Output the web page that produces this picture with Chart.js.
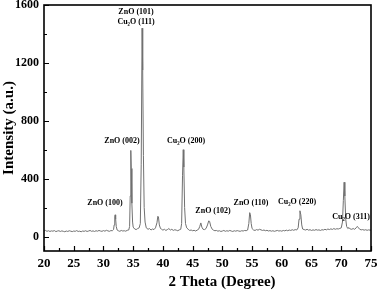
<!DOCTYPE html>
<html>
<head>
<meta charset="utf-8">
<script src="https://cdn.jsdelivr.net/npm/chart.js@4.4.1/dist/chart.umd.min.js"></script>
<style>
  html, body { margin: 0; padding: 0; background: #fff; }
  #wrap { width: 378px; height: 290px; position: relative; }
</style>
</head>
<body>
<div id="wrap"><canvas id="xrd"></canvas></div>
<script>
/* XRD pattern — ZnO / Cu2O film */

var X_TICKS = [20, 25, 30, 35, 40, 45, 50, 55, 60, 65, 70, 75];
var Y_TICKS = [0, 400, 800, 1200, 1600];

var THETA = [
  20.00, 20.25, 20.50, 20.75, 21.00, 21.25, 21.50, 21.75, 22.00, 22.25, 22.50, 22.75,
  23.00, 23.25, 23.50, 23.75, 24.00, 24.25, 24.50, 24.75, 25.00, 25.25, 25.50, 25.75,
  26.00, 26.25, 26.50, 26.75, 27.00, 27.25, 27.50, 27.75, 28.00, 28.25, 28.50, 28.75,
  29.00, 29.25, 29.50, 29.75, 30.00, 30.25, 30.50, 30.75, 31.00, 31.25, 31.50, 31.70,
  31.80, 31.90, 31.97, 32.05, 32.15, 32.30, 32.50, 32.75, 33.00, 33.25, 33.50, 33.75,
  34.00, 34.25, 34.40, 34.50, 34.60, 34.68, 34.78, 34.90, 35.00, 35.25, 35.50, 35.75,
  36.00, 36.20, 36.35, 36.50, 36.60, 36.72, 36.85, 37.00, 37.20, 37.50, 37.75, 38.00,
  38.25, 38.50, 38.75, 39.00, 39.15, 39.25, 39.40, 39.60, 39.80, 40.00, 40.25, 40.50,
  40.75, 41.00, 41.25, 41.50, 41.75, 42.00, 42.25, 42.50, 42.75, 43.00, 43.15, 43.30,
  43.42, 43.52, 43.65, 43.80, 44.00, 44.25, 44.50, 44.75, 45.00, 45.25, 45.50, 45.75,
  46.00, 46.20, 46.38, 46.55, 46.75, 47.00, 47.25, 47.50, 47.70, 47.85, 48.05, 48.30,
  48.50, 48.75, 49.00, 49.25, 49.50, 49.75, 50.00, 50.25, 50.50, 50.75, 51.00, 51.25,
  51.50, 51.75, 52.00, 52.25, 52.50, 52.75, 53.00, 53.25, 53.50, 53.75, 54.00, 54.25,
  54.45, 54.60, 54.72, 54.85, 55.00, 55.25, 55.50, 55.75, 56.00, 56.25, 56.50, 56.75,
  57.00, 57.25, 57.50, 57.75, 58.00, 58.25, 58.50, 58.75, 59.00, 59.25, 59.50, 59.75,
  60.00, 60.25, 60.50, 60.75, 61.00, 61.25, 61.50, 61.75, 62.00, 62.25, 62.50, 62.75,
  62.90, 63.05, 63.20, 63.35, 63.50, 63.75, 64.00, 64.25, 64.50, 64.75, 65.00, 65.25,
  65.50, 65.75, 66.00, 66.25, 66.50, 66.75, 67.00, 67.25, 67.50, 67.75, 68.00, 68.25,
  68.50, 68.75, 69.00, 69.25, 69.50, 69.75, 70.00, 70.20, 70.35, 70.48, 70.60, 70.75,
  70.90, 71.10, 71.30, 71.50, 71.75, 72.00, 72.25, 72.50, 72.70, 72.90, 73.10, 73.35,
  73.60, 73.85, 74.10, 74.35, 74.60, 74.85, 75.00
];

var COUNTS = [
  38, 42, 36, 40, 35, 39, 37, 41, 34, 38, 40, 35,
  39, 36, 33, 38, 35, 40, 37, 34, 38, 36, 41, 35,
  37, 33, 38, 36, 40, 35, 38, 42, 36, 39, 35, 40,
  37, 42, 38, 36, 41, 37, 43, 39, 36, 41, 40, 48,
  80, 135, 150, 120, 70, 45, 40, 36, 42, 38, 40, 37,
  43, 45, 70, 280, 595, 470, 230, 100, 65, 52, 48, 55,
  60, 90, 500, 1440, 1150, 560, 200, 100, 60, 50, 55, 45,
  52, 48, 60, 95, 140, 135, 80, 55, 50, 44, 50, 42,
  48, 55, 45, 50, 42, 47, 44, 40, 46, 50, 90, 420,
  600, 480, 200, 90, 60, 50, 42, 45, 40, 43, 38, 44,
  50, 70, 94, 65, 50, 48, 55, 80, 108, 105, 70, 50,
  44, 40, 42, 37, 40, 35, 38, 42, 36, 40, 37, 42,
  38, 35, 40, 37, 41, 38, 36, 40, 38, 42, 40, 45,
  90, 165, 150, 90, 55, 45, 42, 48, 44, 50, 46, 42,
  45, 40, 43, 38, 41, 37, 40, 36, 39, 42, 38, 40,
  37, 42, 39, 44, 40, 45, 42, 47, 43, 48, 45, 60,
  120, 178, 150, 80, 52, 48, 45, 50, 44, 47, 42, 46,
  43, 48, 44, 46, 42, 47, 45, 50, 46, 52, 48, 53,
  49, 55, 50, 54, 52, 56, 60, 100, 250, 375, 280, 120,
  70, 55, 62, 52, 50, 55, 50, 60, 70, 60, 50, 46,
  48, 44, 47, 43, 46, 44, 45
];

/* peak labels, anchored in data units (theta, intensity) */
var PEAK_TEXT  = ['ZnO (100)', 'ZnO (002)', 'ZnO (101)', 'Cu\u2082O (111)', 'Cu\u2082O (200)',
                  'ZnO (102)', 'ZnO (110)', 'Cu\u2082O (220)', 'Cu\u2082O (311)'];
var PEAK_THETA = [30.26, 33.12, 35.48, 35.48, 43.89, 48.43, 54.82, 62.56, 71.64];
var PEAK_INT   = [234, 662, 1552, 1483, 662, 179, 234, 241, 138];

var SERIF = '"Liberation Serif", "Times New Roman", serif';

var frameAndLabels = {
  id: 'frameAndLabels',
  afterDraw: function (chart) {
    var ctx = chart.ctx, a = chart.chartArea;
    var xs = chart.scales.x, ys = chart.scales.y;
    ctx.save();

    /* inward ticks */
    ctx.strokeStyle = '#000'; ctx.lineWidth = 1.2;
    ctx.beginPath();
    for (var t = 20; t <= 75; t += 2.5) {
      var px = Math.round(xs.getPixelForValue(t)) + 0.5;
      var len = (t % 5 === 0) ? 5 : 3;
      ctx.moveTo(px, a.bottom); ctx.lineTo(px, a.bottom - len);
    }
    for (var v = 0; v <= 1600; v += 200) {
      var py = Math.round(ys.getPixelForValue(v)) + 0.5;
      var ln = (v % 400 === 0) ? 5 : 3;
      ctx.moveTo(a.left, py); ctx.lineTo(a.left + ln, py);
    }
    ctx.stroke();

    /* frame */
    ctx.lineWidth = 1.6;
    ctx.strokeRect(a.left, a.top, a.right - a.left, a.bottom - a.top);

    /* peak labels */
    ctx.fillStyle = '#000';
    ctx.font = 'bold 8px ' + SERIF;
    ctx.textAlign = 'center'; ctx.textBaseline = 'middle';
    PEAK_TEXT.forEach(function (s, i) {
      ctx.fillText(s, xs.getPixelForValue(PEAK_THETA[i]), ys.getPixelForValue(PEAK_INT[i]));
    });

    /* axis titles */
    ctx.font = 'bold 15px ' + SERIF;
    ctx.fillText('2 Theta (Degree)', 222, 282);
    ctx.translate(9, 128);
    ctx.rotate(-Math.PI / 2);
    ctx.fillText('Intensity (a.u.)', 0, 0);
    ctx.restore();
  }
};

new Chart(document.getElementById('xrd'), {
  type: 'line',
  data: {
    labels: THETA,
    datasets: [{
      data: THETA.map(function (t, i) { return { x: t, y: COUNTS[i] }; }),
      borderColor: '#707070',
      borderWidth: 1,
      pointRadius: 0,
      tension: 0,
      fill: false
    }]
  },
  options: {
    responsive: true,
    maintainAspectRatio: false,
    animation: false,
    layout: { padding: { top: 5, right: 7, left: 0, bottom: 0 } },
    plugins: { legend: { display: false }, tooltip: { enabled: false } },
    scales: {
      x: {
        type: 'linear', min: 20, max: 75,
        grid: { display: false, drawTicks: false },
        border: { display: false },
        afterBuildTicks: function (s) { s.ticks = X_TICKS.map(function (v) { return { value: v }; }); },
        afterFit: function (s) { s.height = 39; s.paddingLeft = 0; s.paddingRight = 0; },
        ticks: {
          color: '#000', padding: 5, maxRotation: 0,
          callback: function (v) { return String(v); },
          font: { family: SERIF, size: 13, weight: 'bold' }
        }
      },
      y: {
        min: -100, max: 1600,
        grid: { display: false, drawTicks: false },
        border: { display: false },
        afterBuildTicks: function (s) { s.ticks = Y_TICKS.map(function (v) { return { value: v }; }); },
        afterFit: function (s) { s.width = 44; s.paddingTop = 0; s.paddingBottom = 0; },
        ticks: {
          color: '#000', padding: 5,
          callback: function (v) { return String(v); },
          font: { family: SERIF, size: 12, weight: 'bold' }
        }
      }
    }
  },
  plugins: [frameAndLabels]
});
</script>
</body>
</html>
